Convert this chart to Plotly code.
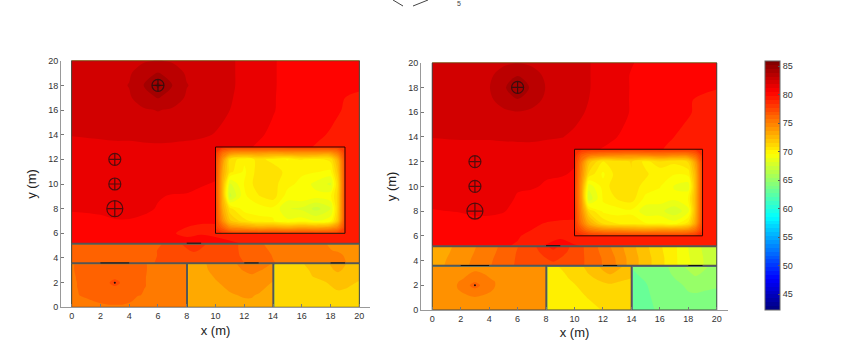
import plotly.graph_objects as go

W, H = 844, 362
JET = [[0, "#00007f"], [0.125, "#0000ff"], [0.375, "#00ffff"], [0.625, "#ffff00"], [0.875, "#ff0000"], [1, "#7f0000"]]
ZMIN, ZMAX = 42.25, 85.9
FINE = (ZMAX - ZMIN) / 64
STEP = 1.0

# ---- main hall (y descending)
hall_x = [0, 2, 3, 4, 5, 6, 7, 8, 9, 10, 12, 14, 16, 18, 20]
hall_y = [20, 19, 18, 17, 16, 15, 14, 13, 12, 11, 10, 9, 8, 7, 6, 5.2]
hall_left = [
 [81.6, 81.7, 81.8, 82.0, 82.1, 82.3, 82.1, 82.0, 81.9, 81.8, 81.0, 80.3, 79.9, 79.6, 79.4],
 [81.6, 81.7, 81.9, 82.1, 82.9, 83.3, 82.9, 82.1, 81.9, 81.8, 81.0, 80.3, 79.9, 79.5, 79.4],
 [81.6, 81.7, 81.9, 82.3, 83.25, 84.5, 83.25, 82.3, 81.9, 81.8, 81.0, 80.3, 79.9, 79.5, 79.4],
 [81.6, 81.7, 81.9, 82.1, 82.9, 83.3, 82.9, 82.1, 81.9, 81.8, 80.9, 80.3, 79.8, 79.4, 79.1],
 [81.6, 81.7, 81.8, 81.9, 82.1, 82.3, 82.1, 81.9, 81.8, 81.6, 80.9, 80.3, 79.7, 79.4, 79.0],
 [81.5, 81.6, 81.7, 81.8, 81.9, 81.9, 81.9, 81.8, 81.7, 81.4, 80.8, 80.2, 79.6, 79.3, 78.9],
 [81.3, 81.4, 81.5, 81.5, 81.5, 81.6, 81.5, 81.5, 81.4, 81.2, 80.6, 80.1, 79.5, 79.2, 78.8],
 [80.9, 81.0, 81.0, 81.0, 81.1, 81.1, 81.1, 81.0, 80.9, 80.8, 80.4, 79.9, 79.4, 79.0, 78.7],
 [80.7, 80.8, 80.8, 80.8, 80.8, 80.8, 80.8, 80.7, 80.6, 80.5, 80.3, 79.8, 79.3, 78.9, 78.7],
 [80.7, 80.7, 80.7, 80.7, 80.7, 80.7, 80.6, 80.6, 80.5, 80.4, 80.2, 79.8, 79.3, 78.9, 78.7],
 [80.7, 80.7, 80.7, 80.7, 80.6, 80.5, 80.5, 80.4, 80.3, 80.2, 80.0, 79.7, 79.3, 78.9, 78.7],
 [80.6, 80.7, 80.7, 80.7, 80.5, 80.3, 80.2, 80.2, 80.1, 80.0, 79.8, 79.6, 79.3, 78.9, 78.7],
 [80.3, 80.4, 80.5, 80.5, 80.4, 80.2, 80.1, 80.0, 79.9, 79.8, 79.7, 79.5, 79.2, 78.9, 78.7],
 [80.1, 80.1, 80.2, 80.2, 80.1, 79.9, 79.6, 79.4, 79.3, 79.3, 79.3, 79.3, 79.1, 78.9, 78.7],
 [79.9, 79.8, 79.9, 79.9, 79.8, 79.6, 79.3, 79.1, 79.1, 79.1, 79.1, 79.1, 79.0, 78.8, 78.7],
 [79.7, 79.7, 79.7, 79.6, 79.5, 79.4, 79.3, 79.5, 80.2, 79.5, 79.2, 79.0, 78.9, 78.8, 78.6],
]
hall_right = [
 [81.5, 81.6, 81.7, 81.9, 82.0, 82.2, 82.0, 81.9, 81.8, 81.7, 80.9, 80.3, 79.8, 79.5, 79.3],
 [81.5, 81.6, 81.8, 82.0, 82.8, 83.2, 82.8, 82.0, 81.8, 81.7, 80.9, 80.2, 79.8, 79.4, 79.3],
 [81.5, 81.6, 81.8, 82.2, 83.1, 83.9, 83.1, 82.2, 81.8, 81.7, 80.9, 80.2, 79.8, 79.4, 79.3],
 [81.5, 81.6, 81.8, 82.0, 82.8, 83.2, 82.8, 82.0, 81.8, 81.7, 80.8, 80.2, 79.7, 79.3, 79.0],
 [81.5, 81.6, 81.7, 81.8, 82.0, 82.2, 82.0, 81.8, 81.7, 81.5, 80.8, 80.2, 79.6, 79.3, 78.9],
 [81.4, 81.5, 81.6, 81.7, 81.8, 81.8, 81.8, 81.7, 81.6, 81.3, 80.7, 80.1, 79.5, 79.2, 78.8],
 [81.3, 81.4, 81.4, 81.4, 81.5, 81.5, 81.5, 81.4, 81.3, 81.1, 80.5, 80.0, 79.4, 79.1, 78.7],
 [80.7, 80.8, 80.8, 80.8, 80.8, 80.9, 80.9, 80.8, 80.7, 80.6, 80.2, 79.8, 79.3, 78.9, 78.6],
 [80.6, 80.6, 80.6, 80.6, 80.6, 80.6, 80.6, 80.5, 80.4, 80.3, 80.1, 79.7, 79.3, 78.8, 78.6],
 [80.6, 80.6, 80.6, 80.6, 80.5, 80.5, 80.4, 80.3, 80.3, 80.2, 80.0, 79.7, 79.3, 78.8, 78.6],
 [80.6, 80.6, 80.6, 80.5, 80.4, 80.3, 80.3, 80.2, 80.1, 80.0, 79.8, 79.6, 79.2, 78.8, 78.6],
 [80.5, 80.6, 80.6, 80.5, 80.4, 80.2, 80.1, 80.0, 79.9, 79.8, 79.7, 79.5, 79.2, 78.8, 78.6],
 [80.2, 80.3, 80.4, 80.4, 80.3, 80.0, 79.9, 79.8, 79.7, 79.6, 79.5, 79.4, 79.1, 78.8, 78.6],
 [79.9, 79.9, 80.0, 80.0, 79.9, 79.7, 79.4, 79.2, 79.1, 79.1, 79.1, 79.1, 79.0, 78.8, 78.6],
 [79.7, 79.6, 79.7, 79.7, 79.5, 79.3, 79.1, 78.9, 78.9, 78.9, 78.9, 78.9, 78.8, 78.7, 78.6],
 [79.5, 79.5, 79.5, 79.4, 79.3, 79.2, 79.1, 79.3, 80.0, 79.3, 79.0, 78.8, 78.7, 78.6, 78.5],
]

# ---- inner block
block_x = [10, 10.5, 11, 12, 13, 14, 15, 16, 17, 18, 18.5, 19]
block_y = [13, 12.5, 12, 11, 10, 9, 8, 7, 6.5, 6]
block_left = [
 [78.6, 78.0, 77.6, 77.6, 77.6, 77.6, 77.6, 77.6, 77.6, 77.6, 77.6, 78.0],
 [78.0, 75.5, 74.2, 73.8, 73.8, 73.5, 73.8, 73.8, 73.8, 73.8, 75.0, 77.6],
 [77.6, 74.0, 70.8, 69.7, 70.5, 70.0, 69.5, 70.3, 70.0, 70.5, 72.8, 77.2],
 [77.4, 73.0, 70.5, 69.4, 70.6, 70.7, 70.0, 69.7, 69.6, 69.4, 71.8, 77.0],
 [77.2, 72.5, 68.0, 69.6, 70.7, 70.5, 69.8, 69.3, 68.6, 68.0, 71.0, 77.0],
 [77.2, 72.5, 67.2, 69.4, 70.2, 70.6, 69.2, 69.4, 69.1, 69.4, 71.2, 77.0],
 [77.4, 73.0, 70.5, 69.2, 69.2, 69.4, 68.2, 68.0, 67.2, 68.0, 71.2, 77.0],
 [77.6, 74.2, 71.8, 70.5, 69.8, 69.6, 69.0, 69.2, 68.8, 69.4, 71.8, 77.2],
 [77.8, 76.0, 74.2, 73.5, 73.0, 73.2, 72.8, 73.2, 73.0, 73.5, 74.5, 77.4],
 [78.6, 78.0, 77.6, 77.4, 77.4, 77.4, 77.4, 77.4, 77.4, 77.4, 77.6, 78.0],
]
block_right = [
 [78.8, 78.2, 78.0, 78.0, 78.0, 78.0, 78.0, 78.0, 78.0, 78.0, 78.1, 78.4],
 [78.4, 76.2, 75.2, 74.6, 74.4, 74.2, 74.4, 74.6, 74.4, 74.6, 75.8, 78.0],
 [78.0, 75.0, 72.0, 70.2, 70.6, 71.0, 70.0, 70.8, 70.4, 71.0, 73.6, 77.6],
 [77.8, 74.2, 70.8, 69.4, 70.6, 70.9, 70.4, 69.7, 69.6, 69.8, 72.5, 77.3],
 [77.6, 73.6, 68.4, 69.8, 70.8, 70.6, 70.0, 69.6, 68.8, 68.4, 72.3, 77.3],
 [77.6, 73.6, 67.6, 69.6, 70.3, 70.6, 69.3, 69.2, 69.0, 69.6, 72.5, 77.3],
 [77.8, 74.2, 70.8, 69.4, 69.2, 69.4, 68.4, 68.4, 67.6, 68.6, 72.5, 77.3],
 [78.0, 75.2, 73.0, 70.8, 70.2, 69.9, 69.6, 69.6, 69.2, 70.5, 73.2, 77.6],
 [78.2, 76.6, 75.2, 74.2, 74.0, 73.8, 73.6, 73.8, 73.8, 74.2, 75.4, 77.8],
 [78.8, 78.4, 78.0, 77.8, 77.8, 77.8, 77.8, 77.8, 77.8, 77.8, 78.0, 78.4],
]

# ---- corridor
corr_x = [0, 1.5, 3, 5, 6.5, 7.5, 8.5, 9.5, 10.5, 11.5, 12.5, 14, 16, 17, 18.5, 20]
corr_y = [5.1, 4.6, 4.2, 3.6]
corr_left = [
 [75.7, 75.8, 75.9, 76.0, 76.3, 77.0, 78.3, 77.0, 76.4, 76.3, 75.6, 75.0, 74.6, 74.4, 74.1, 73.8],
 [75.7, 75.8, 75.9, 76.0, 76.4, 76.9, 77.4, 76.9, 76.5, 76.3, 75.8, 75.1, 74.6, 74.4, 74.2, 73.8],
 [75.7, 75.8, 75.9, 76.0, 76.4, 76.7, 76.9, 76.7, 76.5, 76.3, 76.0, 75.2, 74.7, 74.5, 74.4, 73.8],
 [75.6, 75.8, 76.0, 76.1, 76.4, 76.6, 76.7, 76.6, 76.5, 76.3, 76.2, 75.3, 74.7, 74.6, 74.6, 73.7],
]
corr_right = [
 [72.6, 73.3, 74.2, 75.5, 76.6, 77.4, 78.6, 77.4, 76.4, 75.4, 74.3, 72.6, 70.4, 69.5, 67.6, 66.3],
 [72.6, 73.4, 74.3, 75.6, 76.7, 77.2, 77.8, 77.2, 76.4, 75.5, 74.5, 72.7, 70.5, 69.5, 67.7, 66.3],
 [72.7, 73.5, 74.4, 75.7, 76.7, 77.1, 77.4, 77.1, 76.4, 75.6, 74.7, 72.8, 70.6, 69.5, 67.8, 66.3],
 [72.8, 73.6, 74.5, 75.8, 76.7, 77.0, 77.1, 76.9, 76.4, 75.6, 74.8, 72.8, 70.6, 69.5, 67.9, 66.2],
]

# ---- rooms
room1_x = [0, 0.6, 1.4, 2.2, 2.6, 3, 3.4, 3.8, 4.6, 5.5, 6.5, 8]
room1_y = [3.5, 3, 2.4, 2.3, 2, 1.7, 1.5, 1, 0.5, 0]
room1_left = [
 [75.1, 75.6, 75.8, 75.9, 75.9, 75.9, 75.9, 75.9, 75.6, 75.1, 74.9, 74.7],
 [75.1, 75.6, 75.8, 75.8, 75.8, 75.8, 75.8, 75.8, 75.6, 75.1, 74.9, 74.7],
 [75.0, 75.5, 75.7, 75.8, 75.9, 76.0, 75.9, 75.8, 75.5, 75.1, 74.9, 74.7],
 [75.0, 75.5, 75.7, 75.8, 76.0, 76.1, 76.0, 75.8, 75.5, 75.1, 74.9, 74.7],
 [75.0, 75.4, 75.7, 75.8, 76.1, 77.6, 76.1, 75.8, 75.5, 75.1, 74.9, 74.7],
 [75.0, 75.4, 75.7, 75.8, 76.0, 76.1, 76.0, 75.8, 75.5, 75.1, 74.9, 74.7],
 [74.9, 75.4, 75.7, 75.8, 75.9, 75.9, 75.9, 75.8, 75.4, 75.1, 74.9, 74.7],
 [74.9, 75.3, 75.6, 75.7, 75.7, 75.7, 75.7, 75.7, 75.3, 75.1, 74.9, 74.7],
 [74.8, 74.9, 75.2, 75.5, 75.6, 75.6, 75.6, 75.5, 75.0, 74.8, 74.8, 74.7],
 [74.8, 74.8, 74.8, 74.9, 75.0, 75.0, 75.0, 74.9, 74.8, 74.8, 74.7, 74.7],
]
room1_right = [
 [73.5, 73.5, 73.6, 73.7, 73.7, 73.8, 73.7, 73.7, 73.6, 73.5, 73.5, 73.5],
 [73.5, 73.5, 73.6, 73.8, 74.2, 74.4, 74.3, 74.1, 73.7, 73.5, 73.5, 73.5],
 [73.5, 73.5, 73.8, 74.4, 74.6, 74.7, 74.7, 74.6, 74.0, 73.6, 73.5, 73.5],
 [73.5, 73.5, 73.9, 74.5, 74.8, 75.0, 74.9, 74.7, 74.1, 73.6, 73.5, 73.5],
 [73.5, 73.5, 74.0, 74.6, 75.1, 76.6, 75.1, 74.8, 74.1, 73.6, 73.5, 73.5],
 [73.5, 73.5, 74.0, 74.5, 74.8, 75.0, 74.8, 74.7, 74.0, 73.6, 73.5, 73.5],
 [73.5, 73.5, 73.8, 74.4, 74.6, 74.7, 74.6, 74.5, 73.9, 73.5, 73.5, 73.5],
 [73.5, 73.5, 73.6, 73.9, 74.1, 74.2, 74.1, 73.9, 73.6, 73.5, 73.5, 73.5],
 [73.5, 73.5, 73.5, 73.6, 73.6, 73.6, 73.6, 73.6, 73.5, 73.5, 73.5, 73.5],
 [73.5, 73.5, 73.5, 73.5, 73.5, 73.5, 73.5, 73.5, 73.5, 73.5, 73.5, 73.5],
]
room2_x = [8.1, 9, 10, 11, 12, 12.5, 13, 14]
room2_y = [3.5, 3, 2.5, 2, 1, 0]
room2_left = [
 [73.0, 73.1, 73.5, 74.0, 74.5, 74.7, 74.5, 74.2],
 [73.0, 73.1, 73.4, 73.9, 74.3, 74.5, 74.3, 74.0],
 [72.9, 73.0, 73.3, 73.7, 74.0, 74.1, 74.0, 73.6],
 [72.9, 73.0, 73.2, 73.4, 73.6, 73.7, 73.6, 73.2],
 [72.9, 72.9, 73.1, 73.2, 73.3, 73.3, 73.2, 73.1],
 [72.8, 72.9, 73.0, 73.1, 73.1, 73.1, 73.1, 73.0],
]
room2_right = [
 [69.9, 70.3, 70.8, 71.5, 72.5, 72.9, 72.5, 71.8],
 [69.8, 70.1, 70.6, 71.3, 72.1, 72.4, 72.1, 71.5],
 [69.7, 70.0, 70.4, 71.0, 71.5, 71.7, 71.5, 71.2],
 [69.6, 69.8, 70.2, 70.7, 71.0, 71.1, 71.0, 70.8],
 [69.5, 69.6, 69.9, 70.3, 70.6, 70.7, 70.7, 70.6],
 [69.4, 69.5, 69.6, 69.9, 70.3, 70.4, 70.4, 70.4],
]
room3_x = [14.1, 15, 16, 17, 18, 18.5, 19, 20]
room3_y = [3.5, 3, 2.5, 2, 1, 0]
room3_left = [
 [71.0, 71.0, 71.2, 71.5, 72.3, 72.7, 72.3, 71.5],
 [71.0, 71.0, 71.1, 71.4, 72.1, 72.4, 72.1, 71.5],
 [71.0, 71.0, 71.1, 71.3, 71.7, 71.9, 71.7, 71.4],
 [71.0, 71.0, 71.0, 71.1, 71.3, 71.5, 71.4, 71.2],
 [71.0, 71.0, 71.0, 71.0, 71.1, 71.1, 71.1, 71.1],
 [71.0, 71.0, 71.0, 71.0, 71.0, 71.0, 71.0, 71.0],
]
room3_right = [
 [63.3, 63.5, 63.9, 64.5, 65.5, 65.9, 65.5, 64.8],
 [63.2, 63.4, 63.8, 64.4, 65.1, 65.5, 65.2, 64.7],
 [63.1, 63.3, 63.7, 64.2, 64.8, 65.0, 64.8, 64.5],
 [63.0, 63.2, 63.6, 64.0, 64.4, 64.5, 64.4, 64.3],
 [62.9, 63.1, 63.5, 63.8, 64.1, 64.1, 64.1, 64.1],
 [62.9, 63.0, 63.4, 63.7, 63.9, 64.0, 64.0, 64.0],
]

# ---- overlay geometry in data units
wall_x = [0, 20, None, 0, 20, None, 8.02, 8.02, None, 14.02, 14.02]
wall_y = [5.15, 5.15, None, 3.58, 3.58, None, 0, 3.58, None, 0, 3.58]
frame_x = [0, 20, 20, 0, 0]
frame_y = [0, 0, 20, 20, 0]
block_frame_x = [10, 19, 19, 10, 10]
block_frame_y = [6, 6, 13, 13, 6]
door_x = [8, 9, None, 2, 4, None, 12, 13, None, 18, 19]
door_y = [5.2, 5.2, None, 3.6, 3.6, None, 3.6, 3.6, None, 3.6, 3.6]
source_x = [6, 3, 3, 3]
source_y = [18, 12, 10, 8]
source_size = [12, 12, 12, 16]
spot_x = [3]
spot_y = [2]

ticks = list(range(0, 21, 2))
cbar_ticks = [45, 50, 55, 60, 65, 70, 75, 80, 85]

fig = go.Figure()


def patch(x, y, z, xa, ya, bar=False, size=STEP):
    kw = dict(
        colorbar=dict(
            x=765 / W, xanchor="left", xpad=0, ypad=0, thickness=15, thicknessmode="pixels",
            y=1 - 310 / H, yanchor="bottom", len=249 / H, lenmode="fraction",
            tickmode="array", tickvals=cbar_ticks, ticks="inside", ticklen=2,
            tickcolor="#555555", tickfont=dict(size=9, color="#333333", family="Liberation Sans"),
            outlinecolor="#666666", outlinewidth=1,
        )
    ) if bar else {}
    fig.add_trace(go.Contour(
        x=x, y=y, z=z, xaxis=xa, yaxis=ya, colorscale=JET, zmin=ZMIN, zmax=ZMAX, autocontour=False,
        contours=dict(start=ZMIN, end=ZMAX, size=size, coloring="fill", showlines=False),
        line=dict(width=0, smoothing=0.9), showscale=bar, hoverinfo="skip", **kw))


def overlays(xa, ya):
    fig.add_trace(go.Scatter(x=frame_x, y=frame_y, xaxis=xa, yaxis=ya, mode="lines",
                             line=dict(color="#444444", width=1), showlegend=False))
    fig.add_trace(go.Scatter(x=wall_x, y=wall_y, xaxis=xa, yaxis=ya, mode="lines",
                             line=dict(color="#555555", width=2), showlegend=False))
    fig.add_trace(go.Scatter(x=block_frame_x, y=block_frame_y, xaxis=xa, yaxis=ya, mode="lines",
                             line=dict(color="#300000", width=1), showlegend=False))
    fig.add_trace(go.Scatter(x=door_x, y=door_y, xaxis=xa, yaxis=ya, mode="lines",
                             line=dict(color="#111111", width=1), showlegend=False))
    fig.add_trace(go.Scatter(x=source_x, y=source_y, xaxis=xa, yaxis=ya, mode="markers",
                             marker=dict(symbol="circle-cross-open", size=source_size, color="#111111",
                                         line=dict(width=1.2, color="#111111")), showlegend=False))
    fig.add_trace(go.Scatter(x=spot_x, y=spot_y, xaxis=xa, yaxis=ya, mode="markers",
                             marker=dict(symbol="circle", size=2, color="#111111"), showlegend=False))


# finer-levelled copy underneath, which carries the colour bar
patch(hall_x, hall_y, hall_left, "x", "y", bar=True, size=FINE)

for xa, ya, d in [
    ("x", "y", (hall_left, block_left, corr_left, room1_left, room2_left, room3_left)),
    ("x2", "y2", (hall_right, block_right, corr_right, room1_right, room2_right, room3_right)),
]:
    patch(hall_x, hall_y, d[0], xa, ya)
    patch(block_x, block_y, d[1], xa, ya, size=0.7)
    patch(corr_x, corr_y, d[2], xa, ya)
    patch(room1_x, room1_y, d[3], xa, ya)
    patch(room2_x, room2_y, d[4], xa, ya)
    patch(room3_x, room3_y, d[5], xa, ya)
    overlays(xa, ya)

axis_common = dict(
    tickmode="array", tickvals=ticks, ticks="inside", ticklen=3, tickwidth=1, tickcolor="#777777",
    showline=True, linecolor="#999999", linewidth=1, showgrid=False, zeroline=False,
    tickfont=dict(size=9, color="#333333", family="Liberation Sans"),
    title_font=dict(size=13, color="#222222", family="Liberation Sans"),
)
fig.update_layout(
    width=W, height=H, margin=dict(l=0, r=0, t=0, b=0, autoexpand=False), paper_bgcolor="white", plot_bgcolor="white",
    showlegend=False,
    xaxis=dict(domain=[61 / W, 370 / W], range=[-0.74, 20.74], title=dict(text="x (m)", standoff=5), anchor="y", **axis_common),
    yaxis=dict(domain=[1 - 307.3 / H, 1 - 60.7 / H], range=[0, 20], title=dict(text="y (m)", standoff=8), anchor="x", **axis_common),
    xaxis2=dict(domain=[421 / W, 728 / W], range=[-0.79, 20.79], title=dict(text="x (m)", standoff=5), anchor="y2", **axis_common),
    yaxis2=dict(domain=[1 - 310 / H, 1 - 62.7 / H], range=[0, 20], title=dict(text="y (m)", standoff=8), anchor="x2", **axis_common),
    annotations=[dict(text="5", x=458.5 / W, y=1 - 3 / H, xref="paper", yref="paper", yanchor="middle", showarrow=False,
                      borderpad=0, font=dict(size=7, color="#444444", family="Liberation Sans"))],
    shapes=[
        dict(type="line", xref="paper", yref="paper", x0=393 / W, y0=1, x1=403 / W, y1=1 - 6 / H, line=dict(color="#444444", width=1)),
        dict(type="line", xref="paper", yref="paper", x0=413 / W, y0=1 - 6 / H, x1=428 / W, y1=1, line=dict(color="#444444", width=1)),
    ],
)
fig.write_html("out.html", config={"displayModeBar": False},
               post_script="document.body.style.margin='0';document.body.style.overflow='hidden';")
